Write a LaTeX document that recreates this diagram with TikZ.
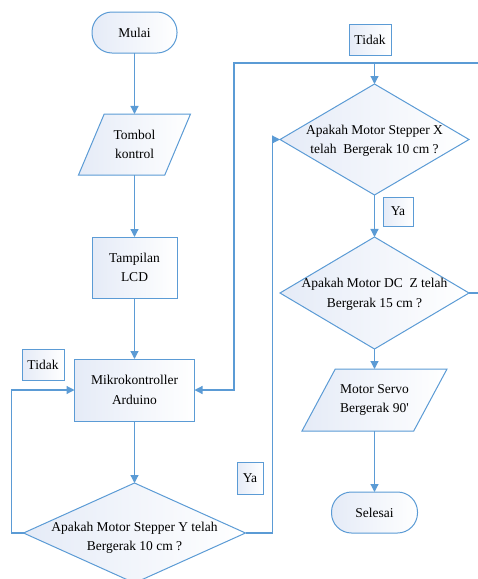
\documentclass[tikz,border=0pt]{standalone}
\usepackage{fontspec}
\setmainfont{Liberation Serif}
\usepackage{tikz}
\usetikzlibrary{positioning, shapes.geometric, arrows.meta}
\definecolor{lineColor}{RGB}{91,155,213}
\definecolor{fillColor}{RGB}{229,235,247}
\newcommand{\flowFont}{\fontsize{13.5}{19.5}\selectfont}
\tikzstyle{flowChart} = [x = 1pt, y = -1pt, every node/.style={font=\flowFont, outer sep=0pt}]
\tikzstyle{boxStyle} = [draw=lineColor, line width=1pt, left color=fillColor, right color=white, align=center, inner sep=0pt]
\tikzstyle{terminalStyle} = [boxStyle, rounded corners=20pt]
\tikzstyle{processStyle} = [boxStyle]
\tikzstyle{ioStyle} = [boxStyle, inner sep=2pt, trapezium, trapezium left angle=67, trapezium right angle=113, trapezium stretches=true]
\tikzstyle{decisionStyle} = [boxStyle, inner sep=2pt, diamond]
\tikzstyle{answerStyle} = [boxStyle]
\tikzstyle{flowText} = [align=center]
\tikzstyle{flowLine} = [draw=lineColor, line width=1.2pt]
\tikzstyle{flowArrow} = [flowLine, -{Triangle[length=8pt, width=8pt]}]
\newcommand{\shapeNode}[7][]{
  \node [#2, minimum width=#5, minimum height=#6] (#3) at #4 {};
  \node [flowText, #1] (#3Text) at (#3) {#7};
}

\begin{document}
\begin{tikzpicture}[flowChart]
  \useasboundingbox (0,0) rectangle (478,579);

  \node [terminalStyle, minimum width=85, minimum height=41] (mulai) at (134.5,32.5) {Mulai};
  \shapeNode{ioStyle}{tombol}{(134.5,144.5)}{112}{61}{Tombol\\kontrol}
  \node [processStyle, minimum width=85, minimum height=61] (lcd) at (134.5,267.5) {Tampilan\\LCD};
  \node [processStyle, minimum width=120, minimum height=62] (mikro) at (134.5,390) {Mikrokontroller\\Arduino};
  \shapeNode[yshift=-5pt]{decisionStyle}{stepperY}{(134.5,533)}{222}{100}{Apakah Motor Stepper Y telah\\Bergerak 10 cm ?}

  \shapeNode[yshift=-1.5pt]{decisionStyle}{stepperX}{(374.5,139.5)}{189}{111}{Apakah Motor Stepper X\\telah~ Bergerak 10 cm ?}
  \shapeNode[yshift=-1.5pt]{decisionStyle}{motorZ}{(374.5,293)}{189}{112}{Apakah Motor DC~ Z telah\\Bergerak 15 cm ?}
  \shapeNode{ioStyle}{servo}{(374.5,400)}{145}{62}{Motor Servo\\Bergerak 90\textquotesingle}
  \node [terminalStyle, minimum width=86, minimum height=41] (selesai) at (374.5,512.5) {Selesai};

  \node [answerStyle, minimum width=42, minimum height=31] (tidakY) at (43,364.5) {Tidak};
  \node [answerStyle, minimum width=42, minimum height=31] (tidakZ) at (370,39.5) {Tidak};
  \node [answerStyle, minimum width=30, minimum height=29] (yaX) at (398,211.5) {Ya};
  \node [answerStyle, minimum width=26, minimum height=32] (yaY) at (250,478) {Ya};

  \coordinate (loopTop) at (234,63);
  \coordinate (loopRight) at (490,63);

  \draw [flowArrow] (mulai) -- (tombol);
  \draw [flowArrow] (tombol) -- (lcd);
  \draw [flowArrow] (lcd) -- (mikro);
  \draw [flowArrow] (mikro) -- (stepperY);
  \draw [flowArrow] (stepperY.west) -- ++(-12,0) |- (mikro.west);
  \draw [flowArrow] (stepperY.east) -- ++(27,0) |- (stepperX.west);
  \draw [flowArrow] (stepperX) -- (motorZ);
  \draw [flowArrow] (motorZ) -- (servo);
  \draw [flowArrow] (servo) -- (selesai);
  \draw [flowArrow] (motorZ.east) -| (loopRight) -- (loopTop) |- (mikro.east);
  \draw [flowArrow] (stepperX.north |- loopTop) -- (stepperX);
\end{tikzpicture}
\end{document}
